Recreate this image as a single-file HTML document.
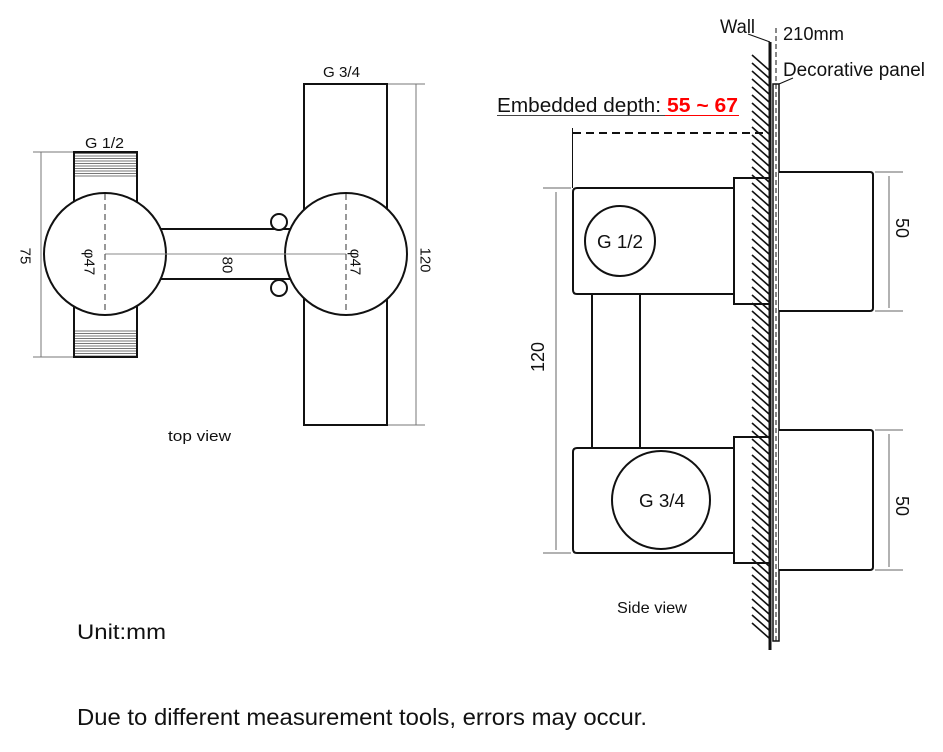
<!DOCTYPE html>
<html><head><meta charset="utf-8"><style>
html,body{margin:0;padding:0;background:#fff;}
svg{display:block;}
text{font-family:"Liberation Sans",sans-serif;fill:#111;}
</style></head><body>
<svg width="943" height="752" viewBox="0 0 943 752" xmlns="http://www.w3.org/2000/svg">
<defs>
  <pattern id="thread" patternUnits="userSpaceOnUse" width="4" height="2.5">
    <line x1="0" y1="1" x2="4" y2="1" stroke="#777" stroke-width="1"/>
  </pattern>
</defs>
<rect width="943" height="752" fill="#fff"/>

<!-- TOP VIEW -->
<g stroke="#777" stroke-width="1" fill="none">
  <line x1="33" y1="152" x2="74" y2="152"/>
  <line x1="33" y1="357" x2="74" y2="357"/>
  <line x1="41" y1="152" x2="41" y2="357"/>
  <line x1="387" y1="84" x2="425" y2="84"/>
  <line x1="387" y1="425" x2="425" y2="425"/>
  <line x1="416" y1="84" x2="416" y2="425"/>
</g>

<rect x="74" y="152" width="63" height="205" fill="#fff" stroke="#111" stroke-width="2"/>
<rect x="75" y="153" width="61" height="25" fill="url(#thread)"/>
<rect x="75" y="330" width="61" height="26" fill="url(#thread)"/>

<rect x="304" y="84" width="83" height="341" fill="#fff" stroke="#111" stroke-width="2"/>
<rect x="150" y="229" width="150" height="50" fill="#fff" stroke="#111" stroke-width="2"/>

<circle cx="279" cy="222" r="8" fill="#fff" stroke="#111" stroke-width="2"/>
<circle cx="279" cy="288" r="8" fill="#fff" stroke="#111" stroke-width="2"/>
<circle cx="105" cy="254" r="61" fill="#fff" stroke="#111" stroke-width="2"/>
<circle cx="346" cy="254" r="61" fill="#fff" stroke="#111" stroke-width="2"/>

<line x1="105" y1="254" x2="346" y2="254" stroke="#888" stroke-width="1"/>
<line x1="105" y1="194" x2="105" y2="314" stroke="#555" stroke-width="1.2" stroke-dasharray="6,4"/>
<line x1="346" y1="194" x2="346" y2="314" stroke="#555" stroke-width="1.2" stroke-dasharray="6,4"/>

<text x="85" y="148" font-size="15" textLength="39" lengthAdjust="spacingAndGlyphs">G 1/2</text>
<text x="323" y="77" font-size="15" textLength="37" lengthAdjust="spacingAndGlyphs">G 3/4</text>
<text font-size="15" text-anchor="middle" dominant-baseline="central" transform="translate(25,256) rotate(90)">75</text>
<text font-size="15" text-anchor="middle" dominant-baseline="central" transform="translate(89,262) rotate(90)">φ47</text>
<text font-size="15" text-anchor="middle" dominant-baseline="central" transform="translate(227,265) rotate(90)">80</text>
<text font-size="15" text-anchor="middle" dominant-baseline="central" transform="translate(355,262) rotate(90)">φ47</text>
<text font-size="15" text-anchor="middle" dominant-baseline="central" transform="translate(425,260) rotate(90)">120</text>
<text x="168" y="441" font-size="15" fill="#222" textLength="63" lengthAdjust="spacingAndGlyphs">top view</text>

<!-- SIDE VIEW -->
<text x="497" y="112" font-size="20" textLength="164" lengthAdjust="spacingAndGlyphs">Embedded depth:</text>
<text x="667" y="112" font-size="20" font-weight="bold" style="fill:#f00" textLength="71" lengthAdjust="spacingAndGlyphs">55 ~ 67</text>
<line x1="497" y1="115.5" x2="665" y2="115.5" stroke="#444" stroke-width="1"/>
<line x1="665" y1="115.5" x2="739" y2="115.5" stroke="#f00" stroke-width="1"/>

<line x1="573" y1="133" x2="768" y2="133" stroke="#111" stroke-width="2" stroke-dasharray="8,5"/>
<line x1="572.5" y1="128" x2="572.5" y2="188" stroke="#111" stroke-width="1"/>

<g stroke="#666" stroke-width="1">
  <line x1="543" y1="188" x2="571" y2="188"/>
  <line x1="543" y1="553" x2="571" y2="553"/>
  <line x1="556" y1="192" x2="556" y2="550"/>
  <line x1="875" y1="172" x2="903" y2="172"/>
  <line x1="875" y1="311" x2="903" y2="311"/>
  <line x1="889" y1="176" x2="889" y2="308"/>
  <line x1="875" y1="430" x2="903" y2="430"/>
  <line x1="875" y1="570" x2="903" y2="570"/>
  <line x1="889" y1="434" x2="889" y2="567"/>
</g>

<line x1="592" y1="294" x2="592" y2="448" stroke="#111" stroke-width="2"/>
<line x1="640" y1="294" x2="640" y2="448" stroke="#111" stroke-width="2"/>

<path d="M734,188 L577,188 Q573,188 573,192 L573,290 Q573,294 577,294 L734,294" fill="none" stroke="#111" stroke-width="2"/>
<path d="M734,448 L577,448 Q573,448 573,452 L573,549 Q573,553 577,553 L734,553" fill="none" stroke="#111" stroke-width="2"/>

<rect x="734" y="178" width="36" height="126" fill="#fff" stroke="#111" stroke-width="2"/>
<rect x="734" y="437" width="36" height="126" fill="#fff" stroke="#111" stroke-width="2"/>

<!-- hatching: 72 diagonal strokes, 8px apart -->
<path fill="none" stroke="#111" stroke-width="1.6" d="M752,55
l17,15m-17,-7 l17,15m-17,-7 l17,15m-17,-7 l17,15m-17,-7 l17,15m-17,-7 l17,15m-17,-7 l17,15m-17,-7 l17,15m-17,-7
l17,15m-17,-7 l17,15m-17,-7 l17,15m-17,-7 l17,15m-17,-7 l17,15m-17,-7 l17,15m-17,-7 l17,15m-17,-7 l17,15m-17,-7
l17,15m-17,-7 l17,15m-17,-7 l17,15m-17,-7 l17,15m-17,-7 l17,15m-17,-7 l17,15m-17,-7 l17,15m-17,-7 l17,15m-17,-7
l17,15m-17,-7 l17,15m-17,-7 l17,15m-17,-7 l17,15m-17,-7 l17,15m-17,-7 l17,15m-17,-7 l17,15m-17,-7 l17,15m-17,-7
l17,15m-17,-7 l17,15m-17,-7 l17,15m-17,-7 l17,15m-17,-7 l17,15m-17,-7 l17,15m-17,-7 l17,15m-17,-7 l17,15m-17,-7
l17,15m-17,-7 l17,15m-17,-7 l17,15m-17,-7 l17,15m-17,-7 l17,15m-17,-7 l17,15m-17,-7 l17,15m-17,-7 l17,15m-17,-7
l17,15m-17,-7 l17,15m-17,-7 l17,15m-17,-7 l17,15m-17,-7 l17,15m-17,-7 l17,15m-17,-7 l17,15m-17,-7 l17,15m-17,-7
l17,15m-17,-7 l17,15m-17,-7 l17,15m-17,-7 l17,15m-17,-7 l17,15m-17,-7 l17,15m-17,-7 l17,15m-17,-7 l17,15m-17,-7
l17,15m-17,-7 l17,15m-17,-7 l17,15m-17,-7 l17,15m-17,-7 l17,15m-17,-7 l17,15m-17,-7 l17,15m-17,-7 l17,15"/>

<line x1="770" y1="42" x2="770" y2="650" stroke="#111" stroke-width="3"/>
<rect x="773" y="84" width="6" height="557" fill="#fff" stroke="#111" stroke-width="1.5"/>
<line x1="776" y1="28" x2="776" y2="641" stroke="#111" stroke-width="1" stroke-dasharray="5,3"/>

<path d="M779,172 L870,172 Q873,172 873,175 L873,308 Q873,311 870,311 L779,311" fill="#fff" stroke="#111" stroke-width="2"/>
<path d="M779,430 L870,430 Q873,430 873,433 L873,567 Q873,570 870,570 L779,570" fill="#fff" stroke="#111" stroke-width="2"/>

<circle cx="620" cy="241" r="35" fill="#fff" stroke="#111" stroke-width="2"/>
<circle cx="661" cy="500" r="49" fill="#fff" stroke="#111" stroke-width="2"/>
<text x="597" y="248" font-size="18" textLength="46" lengthAdjust="spacingAndGlyphs">G 1/2</text>
<text x="639" y="507" font-size="18" textLength="46" lengthAdjust="spacingAndGlyphs">G 3/4</text>

<line x1="748" y1="34" x2="770" y2="42" stroke="#111" stroke-width="1"/>
<line x1="779" y1="84" x2="793" y2="78" stroke="#111" stroke-width="1"/>

<text x="720" y="33" font-size="19" textLength="35" lengthAdjust="spacingAndGlyphs">Wall</text>
<text x="783" y="40" font-size="18" textLength="61" lengthAdjust="spacingAndGlyphs">210mm</text>
<text x="783" y="76" font-size="19" textLength="142" lengthAdjust="spacingAndGlyphs">Decorative panel</text>
<text font-size="18" text-anchor="middle" dominant-baseline="central" transform="translate(538,357) rotate(-90)">120</text>
<text font-size="18" text-anchor="middle" dominant-baseline="central" transform="translate(902,228) rotate(90)">50</text>
<text font-size="18" text-anchor="middle" dominant-baseline="central" transform="translate(902,506) rotate(90)">50</text>
<text x="617" y="613" font-size="16" fill="#222" textLength="70" lengthAdjust="spacingAndGlyphs">Side view</text>

<text x="77" y="639" font-size="21" textLength="89" lengthAdjust="spacingAndGlyphs">Unit:mm</text>
<text x="77" y="725" font-size="23" textLength="570" lengthAdjust="spacingAndGlyphs">Due to different measurement tools, errors may occur.</text>
</svg>
</body></html>
